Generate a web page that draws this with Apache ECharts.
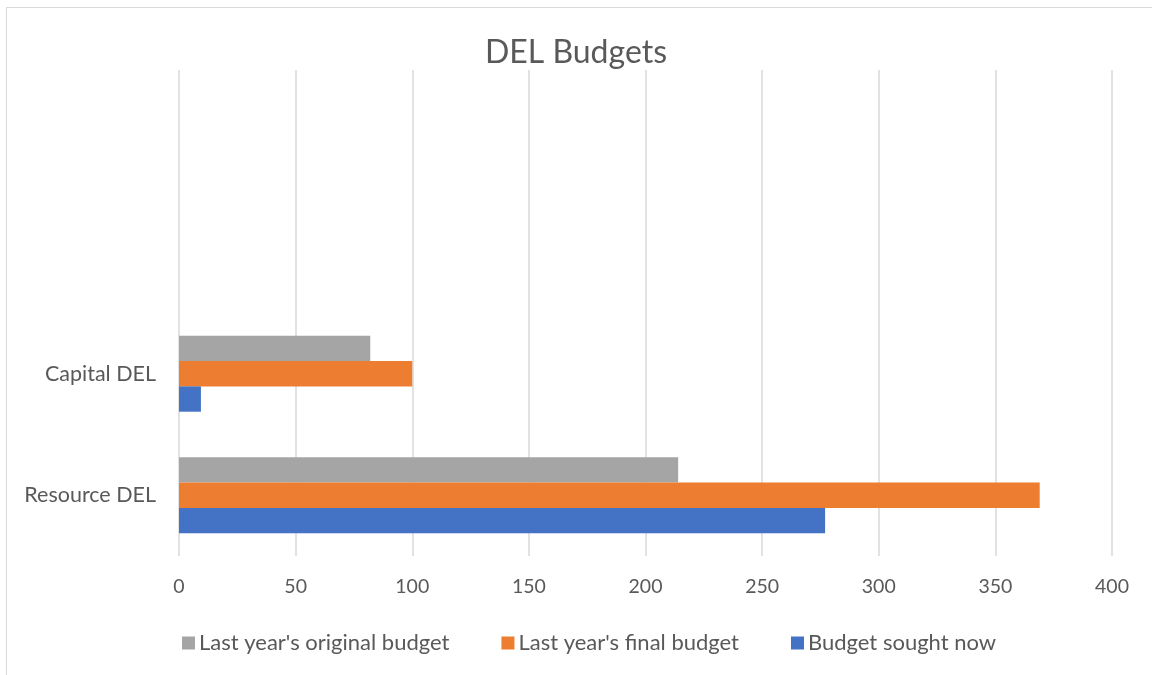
<!DOCTYPE html>
<html>
<head>
<meta charset="utf-8">
<script src="https://cdn.jsdelivr.net/npm/echarts@6/dist/echarts.min.js"></script>
<style>
html,body{margin:0;padding:0;background:#fff;}
#frame{position:absolute;left:6px;top:7px;width:1146px;height:668px;border-top:1px solid #d9d9d9;border-left:1px solid #d9d9d9;box-sizing:border-box;}
#chart{position:absolute;left:0;top:0;width:1152px;height:675px;}
</style>
</head>
<body>
<div id="frame"></div>
<div id="chart"></div>
<script>
const categories = ["Resource DEL", "Capital DEL", "", ""];
const seriesNames = ["Last year's original budget", "Last year's final budget", "Budget sought now"];
const originalBudget = [214, 82, null, null];
const finalBudget = [369, 100, null, null];
const soughtNow = [277, 9.4, null, null];
const xTicks = { min: 0, max: 400, interval: 50 };

const font = 'Lato, "Open Sans", sans-serif';
const chart = echarts.init(document.getElementById('chart'), null, { renderer: 'canvas' });
chart.setOption({
  backgroundColor: 'transparent',
  animation: false,
  title: {
    text: 'DEL Budgets',
    left: 'center',
    top: 32,
    textStyle: { fontFamily: font, fontSize: 32, fontWeight: 'normal', color: '#595959' }
  },
  legend: {
    data: seriesNames,
    left: 177,
    top: 627,
    itemWidth: 13,
    itemHeight: 13,
    itemGap: 52,
    icon: 'rect',
    textStyle: { fontFamily: font, fontSize: 22, color: '#595959', padding: [0, 0, 0, -1] }
  },
  grid: { left: 179, right: 40, top: 70, bottom: 119 },
  xAxis: {
    type: 'value',
    min: xTicks.min, max: xTicks.max, interval: xTicks.interval,
    axisLine: { show: false },
    axisTick: { show: false },
    axisLabel: { fontFamily: font, fontSize: 19.5, color: '#595959', margin: 21 },
    splitLine: { show: true, lineStyle: { color: '#d9d9d9', width: 1.5 } }
  },
  yAxis: {
    type: 'category',
    data: categories,
    axisLine: { show: false },
    axisTick: { show: false },
    axisLabel: { fontFamily: font, fontSize: 21.5, color: '#595959', margin: 23 },
    splitLine: { show: false }
  },
  series: [
    { name: seriesNames[0], type: 'bar', data: originalBudget, barWidth: 25.3, barGap: '0%', itemStyle: { color: '#a5a5a5' } },
    { name: seriesNames[1], type: 'bar', data: finalBudget, barWidth: 25.3, barGap: '0%', itemStyle: { color: '#ed7d31' } },
    { name: seriesNames[2], type: 'bar', data: soughtNow, barWidth: 25.3, barGap: '0%', itemStyle: { color: '#4472c4' } }
  ]
});
</script>
</body>
</html>
